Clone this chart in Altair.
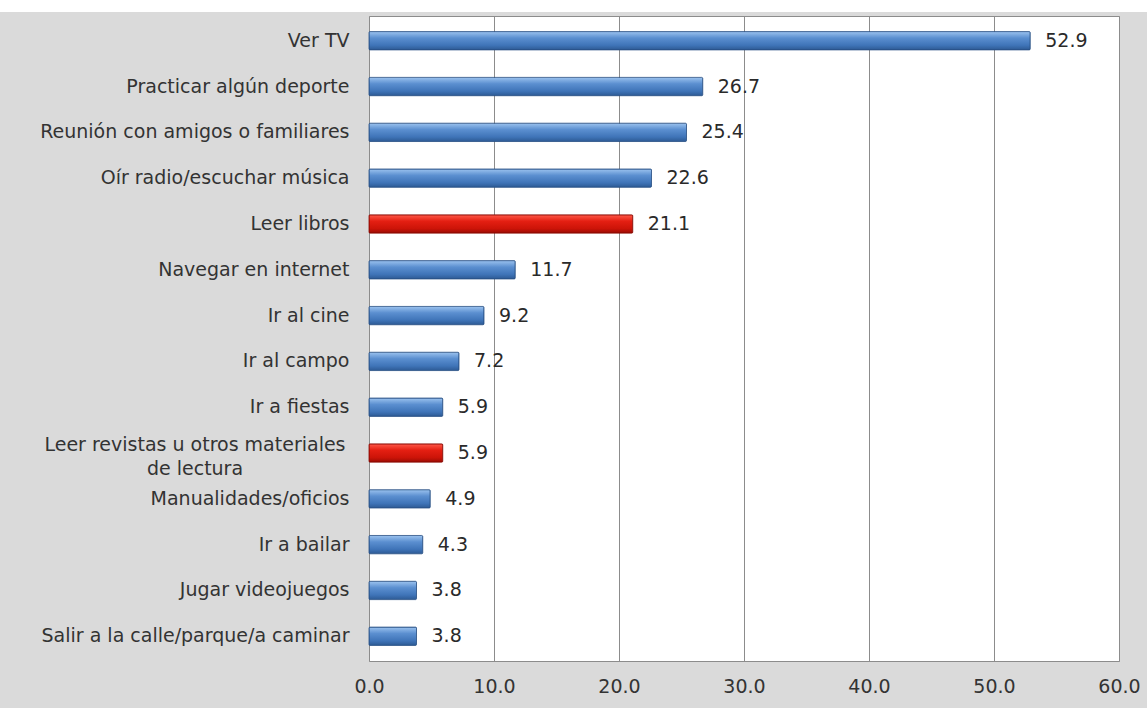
import altair as alt
import pandas as pd

categories = [
    "Ver TV",
    "Practicar algún deporte",
    "Reunión con amigos o familiares",
    "Oír radio/escuchar música",
    "Leer libros",
    "Navegar en internet",
    "Ir al cine",
    "Ir al campo",
    "Ir a fiestas",
    "Leer revistas u otros materiales|de lectura",
    "Manualidades/oficios",
    "Ir a bailar",
    "Jugar videojuegos",
    "Salir a la calle/parque/a caminar",
]
values = [52.9, 26.7, 25.4, 22.6, 21.1, 11.7, 9.2, 7.2, 5.9, 5.9, 4.9, 4.3, 3.8, 3.8]
highlight = [False, False, False, False, True, False, False, False, False, True, False, False, False, False]
x_ticks = [0, 10, 20, 30, 40, 50, 60]

df = pd.DataFrame({"cat": categories, "val": values, "hl": highlight})

FONT = "DejaVu Sans"
FS = 19

blue = alt.Gradient(
    gradient="linear", x1=0, x2=0, y1=0, y2=1,
    stops=[
        alt.GradientStop(color="#9cc3ef", offset=0),
        alt.GradientStop(color="#5b8fd0", offset=0.35),
        alt.GradientStop(color="#3f74b8", offset=0.75),
        alt.GradientStop(color="#2d5a94", offset=1),
    ],
)
red = alt.Gradient(
    gradient="linear", x1=0, x2=0, y1=0, y2=1,
    stops=[
        alt.GradientStop(color="#ff5a4a", offset=0),
        alt.GradientStop(color="#e41f12", offset=0.35),
        alt.GradientStop(color="#cc1408", offset=0.75),
        alt.GradientStop(color="#9c0c04", offset=1),
    ],
)

y_enc = alt.Y(
    "cat:N", sort=categories,
    scale=alt.Scale(paddingInner=0.6, paddingOuter=0.34),
    axis=alt.Axis(
        title=None, ticks=False, domain=False, labelPadding=20,
        labelFont=FONT, labelFontSize=FS, labelColor="#333333",
        labelExpr="indexof(datum.label, '|') >= 0 ? '' : datum.label",
        labelLimit=400,
    ),
)
x_enc = alt.X(
    "val:Q",
    scale=alt.Scale(domain=[0, 60], nice=False),
    axis=alt.Axis(
        title=None, values=x_ticks, format=".1f", ticks=False, domain=False,
        grid=True, gridColor="#8c8c8c", gridWidth=1, labelPadding=16,
        labelFlush=False,
        labelFont=FONT, labelFontSize=FS, labelColor="#333333",
    ),
)

base = alt.Chart(df)

blue_bars = base.transform_filter("!datum.hl").mark_bar(
    color=blue, stroke="#2a5286", strokeWidth=0.8, cornerRadius=1
).encode(x=x_enc, y=y_enc)

red_bars = base.transform_filter("datum.hl").mark_bar(
    color=red, stroke="#8a0a04", strokeWidth=0.8, cornerRadius=1
).encode(x=x_enc, y=y_enc)

labels = base.mark_text(
    align="left", baseline="middle", dx=15, font=FONT, fontSize=FS, color="#2a2a2a"
).encode(x=x_enc, y=y_enc, text=alt.Text("val:Q", format=".1f"))

# wrapped category label, centred on its own lines like the original
wrapped = base.transform_filter("indexof(datum.cat, '|') >= 0").mark_text(
    align="center", baseline="middle", lineBreak="|", lineHeight=24, dy=-8,
    font=FONT, fontSize=FS, color="#333333", clip=False,
).encode(x=alt.value(-174), y=y_enc, text="cat:N")

top_strip = alt.Chart(pd.DataFrame({"a": [0]})).mark_rect(color="#ffffff", clip=False).encode(
    x=alt.value(-369), x2=alt.value(778), y=alt.value(-16), y2=alt.value(-4)
)

chart = alt.layer(blue_bars, red_bars, labels, wrapped, top_strip).properties(
    width=750, height=645,
    autosize=alt.AutoSizeParams(type="none"),
    padding={"left": 369, "top": 16, "right": 28, "bottom": 47},
    background="#dadada",
).configure_view(
    fill="#ffffff", stroke="#8c8c8c", strokeWidth=1
)

chart.save("out.html", embed_options={"renderer": "svg", "actions": False})
